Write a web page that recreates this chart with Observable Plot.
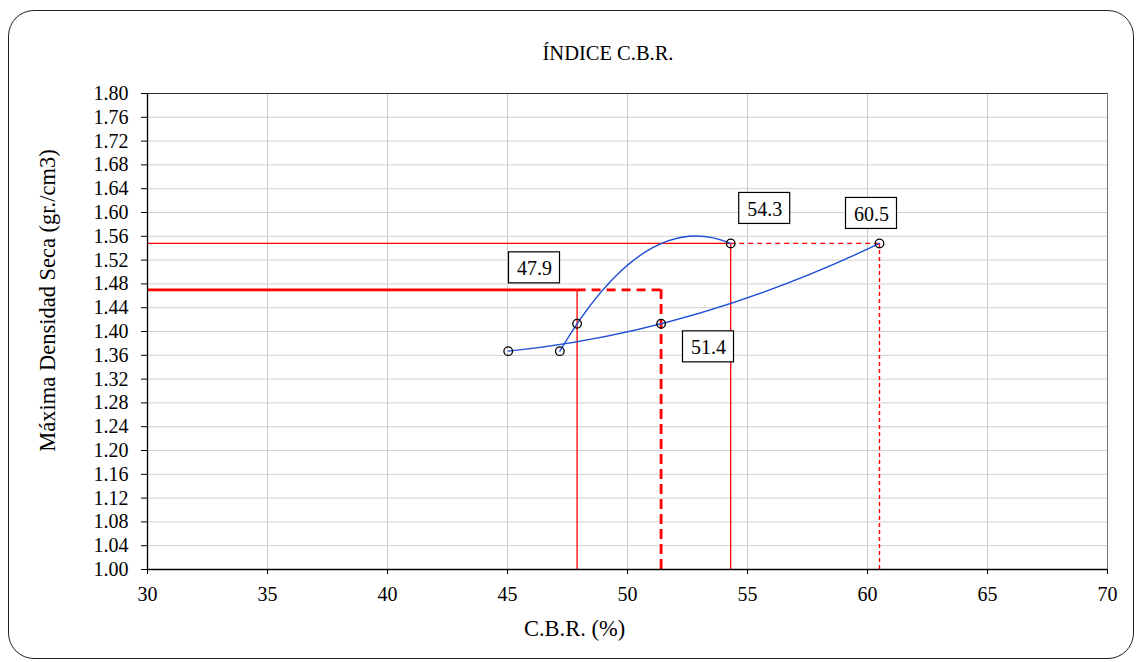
<!DOCTYPE html>
<html>
<head>
<meta charset="utf-8">
<script src="https://cdn.jsdelivr.net/npm/d3@7"></script>
<script src="https://cdn.jsdelivr.net/npm/@observablehq/plot@0.6"></script>
<style>
  body { margin: 0; background: #fff; }
  #wrap { position: relative; width: 1136px; height: 662px; overflow: hidden; }
  #border { position: absolute; left: 8px; top: 10px; width: 1126px; height: 649px; box-sizing: border-box;
            border: 1.3px solid #222; border-radius: 26px; pointer-events: none; }
  #chart svg, #chart svg text { font-family: "Liberation Serif", "Times New Roman", serif !important; }
</style>
</head>
<body>
<div id="wrap"><div id="chart"></div><div id="border"></div></div>
<script>
// ---- data ----
const title = "ÍNDICE C.B.R.";
const xLabel = "C.B.R. (%)";
const yLabel = "Máxima Densidad Seca (gr./cm3)";
const xTicks = [30, 35, 40, 45, 50, 55, 60, 65, 70];
const yTicks = [1.00, 1.04, 1.08, 1.12, 1.16, 1.20, 1.24, 1.28, 1.32, 1.36, 1.40, 1.44, 1.48, 1.52, 1.56, 1.60, 1.64, 1.68, 1.72, 1.76, 1.80];
const densities = [1.367, 1.413, 1.548];          // dry density of the 3 specimens
const cbrUpper = [47.18, 47.9, 54.3];              // CBR series (upper curve)
const cbrLower = [45.03, 51.4, 60.5];              // CBR series (lower curve)
const maxDensity = 1.548;
const density95 = 1.47;
const cbrAt95 = [47.9, 51.4];
const cbrAtMax = [54.3, 60.5];
const labelValues = ["47.9", "51.4", "54.3", "60.5"];

// ---- styles / layout ----
const xDomain = [30, 70];
const yDomain = [1.0, 1.8];
const labelAnchors = [
  {x: cbrAt95[0], y: density95}, {x: cbrAt95[1], y: density95},
  {x: cbrAtMax[0], y: maxDensity}, {x: cbrAtMax[1], y: maxDensity}
];
const labelOffsets = [[-42.6, -22], [47.4, 57], [34, -35], [-8, -30]];

const upper = cbrUpper.map((x, i) => ({x, y: densities[i]}));
const lower = cbrLower.map((x, i) => ({x, y: densities[i]}));

// quadratic (2nd-order polynomial trendline) drawn through the scaled points
function parabolaCurve(context) {
  let pts;
  return {
    areaStart() {}, areaEnd() {},
    lineStart() { pts = []; },
    point(x, y) { pts.push([+x, +y]); },
    lineEnd() {
      if (pts.length < 3) {
        pts.forEach((p, i) => i ? context.lineTo(p[0], p[1]) : context.moveTo(p[0], p[1]));
        return;
      }
      const [[x0, y0], [x1, y1], [x2, y2]] = pts;
      const d01 = (y1 - y0) / (x1 - x0), d12 = (y2 - y1) / (x2 - x1);
      const a = (d12 - d01) / (x2 - x0);
      const f = x => y0 + d01 * (x - x0) + a * (x - x0) * (x - x1);
      const fp = x => d01 + a * (2 * x - x0 - x1);
      const xa = Math.min(x0, x1, x2), xb = Math.max(x0, x1, x2), xm = (xa + xb) / 2;
      context.moveTo(xa, f(xa));
      context.quadraticCurveTo(xm, f(xa) + fp(xa) * (xm - xa), xb, f(xb));
    }
  };
}

const red = "#ff0000";
const blue = "#1f4fd6";
const font = "Liberation Serif";

const marks = [
  Plot.gridX(xTicks, {stroke: "#c8c8c8", strokeOpacity: 1, strokeWidth: 1}),
  Plot.gridY(yTicks, {stroke: "#d0d0d0", strokeOpacity: 1, strokeWidth: 1}),
  Plot.ruleY([yDomain[1]], {stroke: "#333"}),
  Plot.ruleX([xDomain[1]], {stroke: "#777"}),
  // 95% density reference (thick)
  Plot.ruleY([density95], {x1: xDomain[0], x2: cbrAt95[0], stroke: red, strokeWidth: 2.6}),
  Plot.ruleY([density95], {x1: cbrAt95[0], x2: cbrAt95[1], stroke: red, strokeWidth: 2.6, strokeDasharray: "9,6"}),
  Plot.ruleX([cbrAt95[0]], {y1: yDomain[0], y2: density95, stroke: red, strokeWidth: 1.3}),
  Plot.ruleX([cbrAt95[1]], {y1: yDomain[0], y2: density95, stroke: red, strokeWidth: 2.8, strokeDasharray: "10,5"}),
  // maximum density reference (thin)
  Plot.ruleY([maxDensity], {x1: xDomain[0], x2: cbrAtMax[0], stroke: red, strokeWidth: 1.2}),
  Plot.ruleY([maxDensity], {x1: cbrAtMax[0], x2: cbrAtMax[1], stroke: red, strokeWidth: 1.2, strokeDasharray: "5,4"}),
  Plot.ruleX([cbrAtMax[0]], {y1: yDomain[0], y2: maxDensity, stroke: red, strokeWidth: 1.3}),
  Plot.ruleX([cbrAtMax[1]], {y1: yDomain[0], y2: maxDensity, stroke: red, strokeWidth: 1.4, strokeDasharray: "4,3"}),
  // curves
  Plot.line(upper, {x: "x", y: "y", stroke: blue, strokeWidth: 1.4, curve: parabolaCurve}),
  Plot.line(lower, {x: "x", y: "y", stroke: blue, strokeWidth: 1.4, curve: parabolaCurve}),
  Plot.dot([...upper, ...lower], {x: "x", y: "y", r: 4.3, stroke: "#000", strokeWidth: 1.3, fill: "none"}),
  // axes
  Plot.ruleX([xDomain[0]], {stroke: "#000", strokeWidth: 1.3}),
  Plot.ruleY([yDomain[0]], {stroke: "#000", strokeWidth: 1.3}),
  Plot.axisX(xTicks, {tickSize: 5, tickPadding: 12, tickFormat: d => String(d), fontSize: 20, fontFamily: font, label: null, stroke: "#000"}),
  Plot.axisY(yTicks, {tickSize: 6, tickPadding: 13, tickFormat: d => d.toFixed(2), fontSize: 20, fontFamily: font, label: null, stroke: "#000"}),
  // titles
  Plot.text([title], {frameAnchor: "top", lineAnchor: "middle", textAnchor: "middle", dx: -19.5, dy: -40, fontSize: 20.5, fontFamily: font, fill: "#000"}),
  Plot.text([xLabel], {frameAnchor: "bottom", lineAnchor: "middle", textAnchor: "middle", dx: -53, dy: 59, fontSize: 22.5, fontFamily: font, fill: "#000"}),
  Plot.text([yLabel], {frameAnchor: "left", lineAnchor: "middle", textAnchor: "middle", dx: -100, dy: -31, rotate: -90, fontSize: 22.5, fontFamily: font, fill: "#000"})
];

labelValues.forEach((t, i) => {
  const a = [labelAnchors[i]];
  const [dx, dy] = labelOffsets[i];
  marks.push(Plot.rect(a, {x1: "x", x2: "x", y1: "y", y2: "y", dx, dy,
    insetLeft: -25.5, insetRight: -25.5, insetTop: -15.5, insetBottom: -15.5,
    fill: "#fff", stroke: "#000", strokeWidth: 1.2}));
  marks.push(Plot.text(a, {x: "x", y: "y", text: () => t, dx, dy: dy + 1, fontSize: 20, fontFamily: font, fill: "#000"}));
});

const chart = Plot.plot({
  width: 1136,
  height: 662,
  marginLeft: 147,
  marginRight: 29,
  marginTop: 93,
  marginBottom: 93,
  style: {fontFamily: font, fontSize: "20px", background: "transparent", color: "#000", overflow: "visible"},
  x: {type: "linear", domain: xDomain},
  y: {type: "linear", domain: yDomain},
  marks
});
document.getElementById("chart").appendChild(chart);
</script>
</body>
</html>
